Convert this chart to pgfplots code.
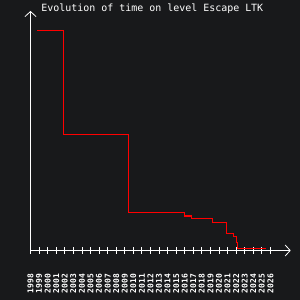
\documentclass[border=0pt]{standalone}
\usepackage{pgfplots}
\pgfplotsset{compat=1.18}
\usepackage{fontspec}
\setmonofont{DejaVu Sans Mono}
\usetikzlibrary{arrows.meta}
\definecolor{bg}{RGB}{24,25,27}
\begin{document}
\begin{tikzpicture}
\fill[bg] (0,0) rectangle (300bp,300bp);
\begin{axis}[
  at={(30.5bp,49.5bp)}, anchor=south west,
  scale only axis, width=260.2bp, height=239.5bp,
  xmin=1998, xmax=2028.37, ymin=0, ymax=239.5,
  axis lines=left,
  axis line style={white, line width=0.8bp, -{Straight Barb[length=5bp,width=11bp]}},
  ytick=\empty,
  xtick={1998,...,2026},
  /pgf/number format/assume math mode=true,
  xticklabel style={rotate=90, anchor=east, white, inner sep=0pt,
    font=\ttfamily\bfseries\fontsize{8}{8}\selectfont, /pgf/number format/1000 sep=},
  xticklabel shift=20bp,
  tick style={white, line width=0.8bp},
  major tick length=6.5bp, tick align=center,
  clip=false,
]
\addplot[const plot, red, line width=1.2bp] coordinates {
  (1998.81,220.2) (2001.84,116.2) (2009.43,38.2) (2015.96,34.5)
  (2016.78,32.2) (2019.23,28.2) (2020.86,17.2) (2021.68,14.2)
  (2022.08,8.2) (2022.19,2.2) (2025.46,2.2)
};
\end{axis}
\node[anchor=base, white, font=\ttfamily\fontsize{10}{10}\selectfont, inner sep=0pt]
  at (152.3bp,288bp) {Evolution of time on level Escape LTK};
\pgfresetboundingbox
\useasboundingbox (0,0) rectangle (300bp,300bp);
\end{tikzpicture}
\end{document}
